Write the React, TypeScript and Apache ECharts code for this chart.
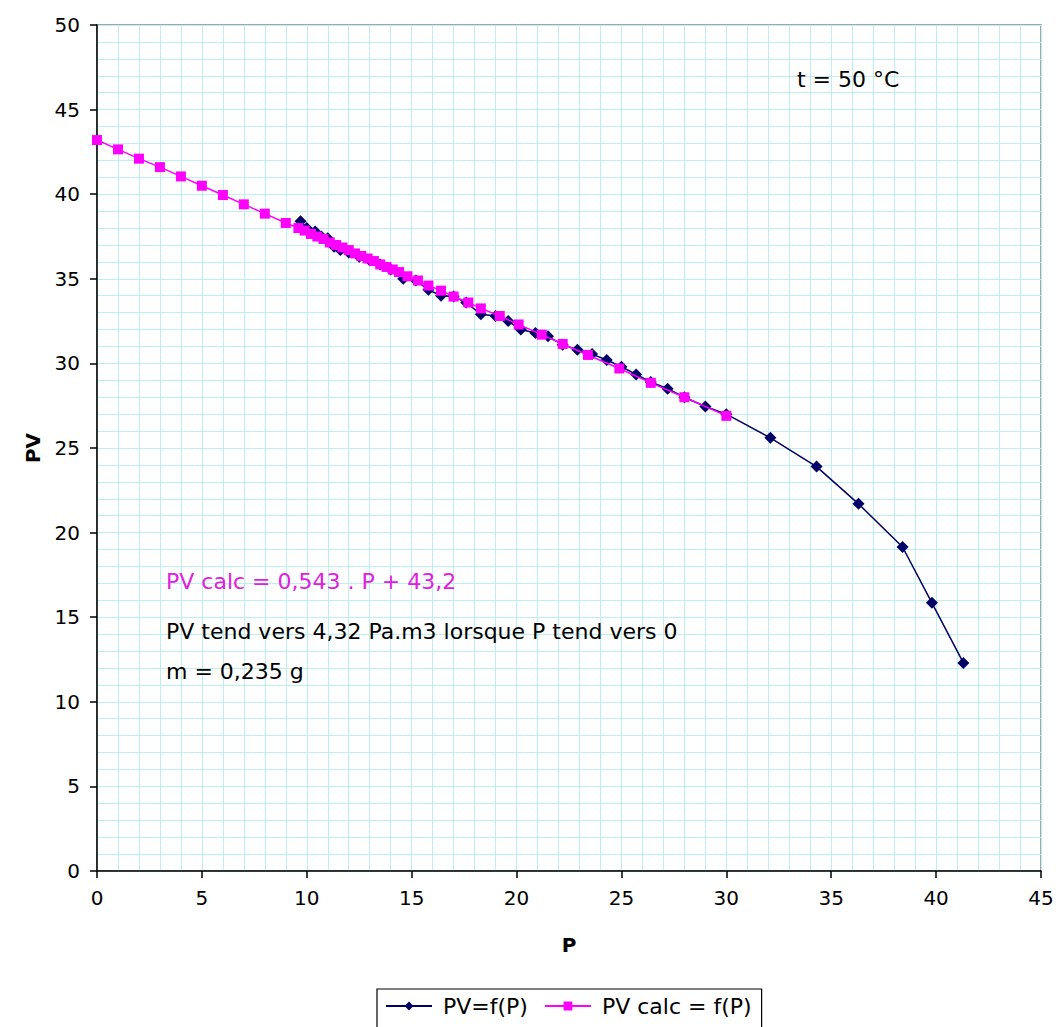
import React, { useEffect, useRef } from "react";
import * as echarts from "echarts";

const measuredP = [9.7, 10.0, 10.4, 10.7, 11.0, 11.3, 11.6, 12.0, 12.5, 13.0, 13.5, 14.0, 14.6, 15.2, 15.8, 16.4, 17.0, 17.6, 18.3, 19.0, 19.6, 20.2, 20.9, 21.5, 22.2, 22.9, 23.6, 24.3, 25.0, 25.7, 26.4, 27.2, 28.0, 29.0, 30.0, 32.1, 34.3, 36.3, 38.4, 39.8, 41.3];
const measuredPV = [38.4, 38.0, 37.8, 37.5, 37.4, 36.9, 36.7, 36.55, 36.3, 36.1, 35.85, 35.55, 35.0, 34.9, 34.35, 34.0, 33.95, 33.6, 32.9, 32.8, 32.5, 32.0, 31.8, 31.6, 31.1, 30.8, 30.55, 30.2, 29.8, 29.35, 28.9, 28.5, 28.0, 27.45, 27.0, 25.6, 23.9, 21.7, 19.15, 15.85, 12.3];

const calcP = [0, 1, 2, 3, 4, 5, 6, 7, 8, 9, 9.6, 9.9, 10.2, 10.5, 10.8, 11.1, 11.4, 11.7, 12.0, 12.3, 12.6, 12.9, 13.2, 13.5, 13.8, 14.1, 14.4, 14.8, 15.3, 15.8, 16.4, 17.0, 17.7, 18.3, 19.2, 20.1, 21.2, 22.2, 23.4, 24.9, 26.4, 28.0, 30.0];
const calcPV = [43.2, 42.65, 42.1, 41.6, 41.05, 40.5, 39.95, 39.4, 38.85, 38.3, 38.0, 37.85, 37.65, 37.5, 37.35, 37.15, 37.0, 36.85, 36.7, 36.5, 36.35, 36.2, 36.05, 35.85, 35.7, 35.55, 35.4, 35.15, 34.9, 34.6, 34.3, 33.95, 33.6, 33.25, 32.8, 32.3, 31.7, 31.15, 30.5, 29.7, 28.85, 28.0, 26.9];

const seriesNames = ["PV=f(P)", "PV calc = f(P)"];
const annotations = [
  "t = 50 °C",
  "PV calc = 0,543 . P + 43,2",
  "PV tend vers 4,32 Pa.m3 lorsque P tend vers 0",
  "m = 0,235 g",
];

const FONT = "'DejaVu Sans', Verdana, sans-serif";

export default function App() {
  const ref = useRef<HTMLDivElement>(null);
  useEffect(() => {
    if (!ref.current) return;
    const chart = echarts.init(ref.current, null, { renderer: "svg" });
    const grid = "#bdeff2";
    const axisCommon = {
      min: 0,
      interval: 5,
      axisLine: { show: true, onZero: false, lineStyle: { color: "#000", width: 1.5 } },
      axisTick: { show: true, inside: false, length: 7, lineStyle: { color: "#000", width: 1.5 } },
      axisLabel: { color: "#000", fontSize: 20, fontFamily: FONT },
      splitLine: { show: true, lineStyle: { color: grid, width: 1 } },
      minorTick: { show: false, splitNumber: 5 },
      minorSplitLine: { show: true, lineStyle: { color: grid, width: 1 } },
      nameTextStyle: { color: "#000", fontSize: 20, fontWeight: "bold", fontFamily: FONT },
    };
    chart.setOption({
      animation: false,
      backgroundColor: "#fff",
      textStyle: { fontFamily: FONT },
      grid: { left: 97, top: 25, right: 17, bottom: 156, show: true, borderColor: "#888", borderWidth: 1.5, backgroundColor: "#fff" },
      xAxis: {
        ...axisCommon,
        type: "value",
        max: 45,
        name: "P",
        nameLocation: "middle",
        nameGap: 64,
        axisLabel: { ...axisCommon.axisLabel, margin: 17 },
      },
      yAxis: {
        ...axisCommon,
        type: "value",
        max: 50,
        name: "PV",
        nameLocation: "middle",
        nameGap: 54,
        axisLabel: { ...axisCommon.axisLabel, margin: 17 },
      },
      legend: {
        data: seriesNames,
        top: 989,
        left: 377,
        borderColor: "#000",
        borderWidth: 1.2,
        padding: [6, 10, 12, 8],
        itemGap: 16,
        itemWidth: 46,
        itemHeight: 11,
        textStyle: { color: "#000", fontSize: 22, fontFamily: FONT, padding: [0, 0, 0, 6] },
      },
      series: [
        {
          name: seriesNames[0],
          type: "line",
          data: measuredP.map((p, i) => [p, measuredPV[i]]),
          symbol: "diamond",
          symbolSize: 12,
          itemStyle: { color: "#000066" },
          lineStyle: { color: "#000066", width: 1.5 },
          z: 2,
        },
        {
          name: seriesNames[1],
          type: "line",
          data: calcP.map((p, i) => [p, calcPV[i]]),
          symbol: "rect",
          symbolSize: 10,
          itemStyle: { color: "#ff00ff" },
          lineStyle: { color: "#ff00ff", width: 1.5 },
          z: 3,
        },
      ],
      graphic: [
        { type: "text", left: 797, top: 68, z: 100, style: { text: annotations[0], fill: "#000", fontSize: 22, fontFamily: FONT } },
        { type: "text", left: 166, top: 570, z: 100, style: { text: annotations[1], fill: "#e020e0", fontSize: 22, fontFamily: FONT } },
        { type: "text", left: 166, top: 620, z: 100, style: { text: annotations[2], fill: "#000", fontSize: 22, fontFamily: FONT } },
        { type: "text", left: 166, top: 660, z: 100, style: { text: annotations[3], fill: "#000", fontSize: 22, fontFamily: FONT } },
      ],
    });
    return () => chart.dispose();
  }, []);
  return <div ref={ref} style={{ position: "fixed", left: 0, top: 0, width: 1058, height: 1027 }} />;
}
